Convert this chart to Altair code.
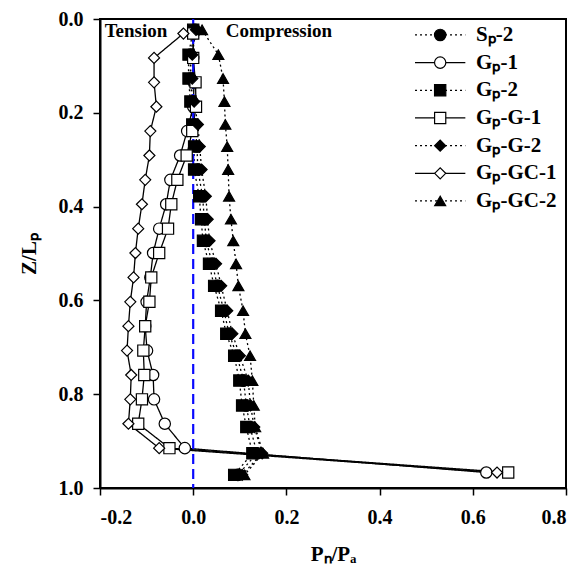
import altair as alt
import pandas as pd

# ---- data ----
series_names = ["Sₚ-2", "Gₚ-1", "Gₚ-2", "Gₚ-G-1", "Gₚ-G-2", "Gₚ-GC-1", "Gₚ-GC-2"]

z_open = [0.031, 0.083, 0.135, 0.187, 0.239, 0.291, 0.343, 0.395, 0.447, 0.499,
          0.551, 0.603, 0.655, 0.707, 0.759, 0.811, 0.863, 0.915, 0.967]
z_filled = [0.023, 0.076, 0.127, 0.176, 0.225, 0.272, 0.321, 0.378, 0.427, 0.473,
            0.522, 0.569, 0.622, 0.671, 0.718, 0.771, 0.824, 0.870, 0.926, 0.972]

sp_2 = [0.003, -0.006, -0.006, -0.002, 0.004, 0.008, 0.010, 0.020, 0.024, 0.028,
        0.041, 0.052, 0.066, 0.077, 0.094, 0.108, 0.114, 0.122, 0.137, 0.096]
gp_1 = [0.000, 0.000, 0.002, 0.000, -0.013, -0.028, -0.049, -0.058, -0.073, -0.086,
        -0.092, -0.100, -0.103, -0.099, -0.086, -0.084, -0.061, -0.018, 0.629]
gp_2 = [0.000, -0.010, -0.010, -0.006, -0.002, 0.002, 0.002, 0.013, 0.017, 0.021,
        0.034, 0.045, 0.060, 0.071, 0.088, 0.099, 0.105, 0.114, 0.127, 0.088]
gp_g_1 = [0.000, 0.000, 0.005, 0.006, -0.002, -0.014, -0.034, -0.047, -0.054, -0.073,
          -0.090, -0.094, -0.103, -0.107, -0.105, -0.110, -0.118, -0.051, 0.676]
gp_g_2 = [0.006, -0.002, -0.002, 0.002, 0.010, 0.014, 0.018, 0.027, 0.031, 0.035,
          0.049, 0.060, 0.073, 0.084, 0.100, 0.118, 0.123, 0.131, 0.148, 0.105]
gp_gc_1 = [-0.021, -0.084, -0.084, -0.079, -0.092, -0.094, -0.103, -0.110, -0.118, -0.124,
           -0.128, -0.135, -0.139, -0.142, -0.133, -0.135, -0.139, -0.073, 0.652]
gp_gc_2 = [0.019, 0.054, 0.064, 0.067, 0.069, 0.073, 0.075, 0.077, 0.081, 0.086,
           0.092, 0.097, 0.107, 0.112, 0.122, 0.127, 0.130, 0.133, 0.150, 0.110]

x_ticks = [-0.2, 0.0, 0.2, 0.4, 0.6, 0.8]
y_ticks = [0.0, 0.2, 0.4, 0.6, 0.8, 1.0]

# ---- build table ----
series_values = [(sp_2, z_filled), (gp_1, z_open), (gp_2, z_filled), (gp_g_1, z_open),
                 (gp_g_2, z_filled), (gp_gc_1, z_open), (gp_gc_2, z_filled)]
rows = []
for k, (name, (xs, zs)) in enumerate(zip(series_names, series_values)):
    for xv, zv in zip(xs, zs):
        rows.append({"series": name, "k": k, "x": xv, "z": zv})
df = pd.DataFrame(rows)

# styles per series
shapes = ["circle", "circle", "square", "square", "diamond", "diamond", "triangle-up"]
fills = ["black", "white", "black", "white", "black", "white", "black"]
sizes = [130, 120, 120, 110, 170, 150, 140]
dashes = [[2, 3], [1, 0], [2, 3], [1, 0], [2, 3], [1, 0], [2, 3]]

FONT = "Liberation Serif, Times New Roman, serif"
LBL = "replace(format(datum.value, '.1f'), '\u2212', '-')"

xs_ = alt.Scale(domain=[-0.2, 0.8], nice=False, zero=False)
ys_ = alt.Scale(domain=[0, 1], reverse=True, nice=False, zero=False)
shape_s = alt.Scale(domain=series_names, range=shapes)
fill_s = alt.Scale(domain=series_names, range=fills)
size_s = alt.Scale(domain=series_names, range=sizes)
dash_s = alt.Scale(domain=series_names, range=dashes)

X = alt.X("x:Q", scale=xs_, title="Pₙ/Pₐ",
          axis=alt.Axis(values=x_ticks, labelExpr=LBL))
Y = alt.Y("z:Q", scale=ys_, title="Z/Lₚ",
          axis=alt.Axis(values=y_ticks, labelExpr=LBL))

base = alt.Chart(df)

lines = base.mark_line(color="black", strokeWidth=1.3).encode(
    x=X, y=Y,
    strokeDash=alt.StrokeDash("series:N", scale=dash_s, legend=None),
    order="z:Q",
)

points = base.mark_point(filled=True, stroke="black", strokeWidth=1.2, opacity=1).encode(
    x=X, y=Y,
    shape=alt.Shape("series:N", scale=shape_s, legend=None),
    fill=alt.Fill("series:N", scale=fill_s, legend=None),
    size=alt.Size("series:N", scale=size_s, legend=None),
    order="k:Q",
)

zero_rule = alt.Chart(pd.DataFrame({"x": [0.0]})).mark_rule(
    color="#0a0aff", strokeDash=[10, 5], strokeWidth=2.2
).encode(x=alt.X("x:Q", scale=xs_))

notes = pd.DataFrame({"x": [-0.19, 0.07], "z": [0.026, 0.026], "t": ["Tension", "Compression"]})
note_text = alt.Chart(notes).mark_text(
    align="left", baseline="middle", font=FONT, fontWeight="bold", fontSize=19, color="black"
).encode(x=alt.X("x:Q", scale=xs_), y=alt.Y("z:Q", scale=ys_), text="t:N")

# ---- legend (drawn in data space, top right) ----
leg = pd.DataFrame({"series": series_names, "i": list(range(len(series_names)))})
leg_base = alt.Chart(leg).transform_calculate(
    ly="0.034 + 0.059 * datum.i", lx="0.530", lx1="0.476", lx2="0.584", tx="0.607"
)
leg_lines = leg_base.mark_rule(color="black", strokeWidth=1.3).encode(
    x=alt.X("lx1:Q", scale=xs_), x2="lx2:Q", y=alt.Y("ly:Q", scale=ys_),
    strokeDash=alt.StrokeDash("series:N", scale=dash_s, legend=None),
)
leg_pts = leg_base.mark_point(filled=True, stroke="black", strokeWidth=1.2, opacity=1).encode(
    x=alt.X("lx:Q", scale=xs_), y=alt.Y("ly:Q", scale=ys_),
    shape=alt.Shape("series:N", scale=shape_s, legend=None),
    fill=alt.Fill("series:N", scale=fill_s, legend=None),
    size=alt.Size("series:N", scale=size_s, legend=None),
)
leg_text = leg_base.mark_text(
    align="left", baseline="middle", font=FONT, fontWeight="bold", fontSize=21, color="black"
).encode(x=alt.X("tx:Q", scale=xs_), y=alt.Y("ly:Q", scale=ys_), text="series:N")

chart = alt.layer(
    lines, zero_rule, points, note_text, leg_lines, leg_pts, leg_text
).properties(
    width=466, height=469,
    autosize=alt.AutoSizeParams(type="none"),
    padding={"left": 92, "top": 11, "right": 6, "bottom": 81},
).configure_view(
    stroke="black", strokeWidth=2
).configure_axis(
    grid=False,
    domainColor="black", domainWidth=2,
    tickColor="black", tickWidth=1.5, tickSize=7,
    labelFont=FONT, labelFontWeight="bold", labelFontSize=20, labelColor="black",
    titleFont=FONT, titleFontWeight="bold", titleFontSize=21, titleColor="black",
).configure_axisX(
    labelPadding=12, titlePadding=16
).configure_axisY(
    labelPadding=10, titlePadding=19
)

chart.save("out.html", embed_options={"renderer": "svg", "actions": False})
